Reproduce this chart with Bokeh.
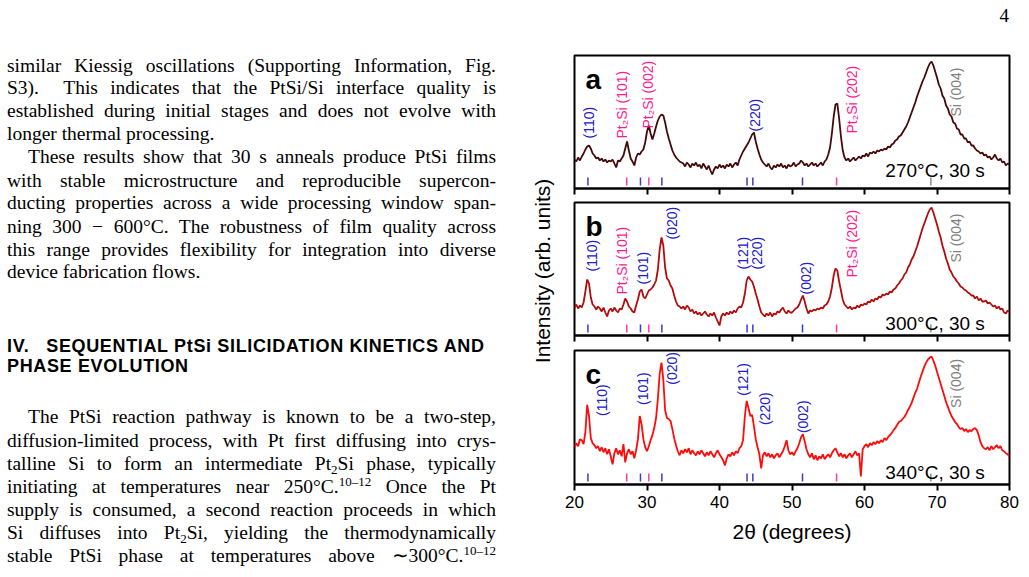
import numpy as np
from bokeh.plotting import figure
from bokeh.models import Range1d, Div, FixedTicker
from bokeh.layouts import column, row
from bokeh.embed import file_html
from bokeh.resources import INLINE
from bokeh.core.properties import value

# ---------------- data ----------------
two_theta = np.arange(241) * 0.25 + 20.0   # measurement grid, 20..80 deg, 0.25 deg step

int_270 = [
    29, 27, 31, 28, 32, 35, 39, 42, 43, 40, 35, 33, 30, 31, 28, 30, 27, 29, 26, 28,
    27, 29, 25, 21, 28, 27, 30, 33, 40, 47, 38, 30, 27, 23, 31, 35, 34, 37, 39, 46,
    57, 63, 55, 49, 55, 62, 68, 72, 74, 73, 66, 57, 50, 44, 38, 34, 31, 29, 27, 26,
    25, 22, 26, 24, 21, 25, 23, 26, 22, 24, 20, 25, 22, 19, 23, 18, 14, 19, 22, 20,
    24, 21, 23, 20, 24, 22, 25, 21, 24, 26, 23, 29, 33, 37, 40, 43, 46, 50, 54, 56,
    47, 40, 34, 29, 26, 24, 22, 25, 21, 19, 23, 21, 24, 22, 25, 21, 23, 20, 24, 22,
    23, 26, 22, 24, 25, 28, 26, 23, 25, 22, 24, 26, 23, 25, 22, 24, 26, 23, 27, 29,
    34, 41, 55, 72, 84, 85, 70, 52, 38, 31, 28, 30, 27, 29, 31, 28, 30, 32, 30, 33,
    32, 35, 32, 36, 35, 37, 35, 38, 37, 39, 38, 40, 39, 42, 41, 44, 45, 48, 49, 52,
    53, 56, 59, 62, 66, 71, 76, 81, 86, 92, 97, 102, 107, 111, 116, 121, 125, 127, 123, 117,
    111, 104, 100, 93, 90, 83, 80, 74, 72, 66, 65, 60, 59, 54, 54, 50, 50, 46, 47, 43,
    43, 40, 38, 37, 35, 36, 33, 34, 31, 32, 29, 31, 34, 30, 28, 30, 26, 27, 23, 25,
    24,
]

int_300 = [
    28, 31, 27, 30, 28, 33, 44, 56, 52, 38, 31, 29, 26, 29, 27, 24, 28, 23, 19, 25,
    27, 24, 28, 25, 23, 27, 26, 31, 37, 34, 29, 27, 24, 23, 30, 36, 44, 46, 39, 37,
    41, 45, 46, 48, 51, 55, 66, 86, 98, 90, 68, 57, 55, 50, 47, 40, 34, 30, 29, 27,
    29, 26, 30, 28, 24, 26, 22, 24, 21, 23, 20, 22, 24, 21, 19, 22, 20, 23, 18, 14,
    10, 19, 22, 20, 23, 21, 24, 22, 25, 23, 27, 29, 28, 33, 42, 55, 59, 56, 54, 49,
    42, 36, 29, 23, 21, 19, 22, 20, 23, 19, 22, 21, 24, 23, 26, 28, 24, 22, 25, 23,
    23, 25, 27, 28, 31, 36, 40, 34, 27, 22, 25, 24, 26, 25, 27, 26, 28, 27, 30, 31,
    34, 39, 48, 60, 67, 65, 54, 45, 36, 31, 29, 27, 29, 26, 28, 27, 30, 28, 31, 30,
    32, 31, 34, 33, 36, 34, 37, 36, 39, 38, 41, 40, 42, 41, 44, 43, 46, 47, 50, 52,
    55, 57, 61, 63, 68, 71, 76, 79, 84, 89, 95, 101, 107, 112, 117, 122, 126, 128, 123, 117,
    111, 104, 98, 90, 84, 77, 72, 66, 63, 59, 57, 54, 52, 49, 48, 46, 45, 43, 42, 40,
    40, 37, 39, 35, 37, 34, 34, 35, 32, 33, 31, 29, 30, 27, 29, 26, 27, 23, 22, 25,
    24,
]

int_340 = [
    37, 41, 38, 45, 44, 40, 52, 79, 68, 46, 41, 39, 36, 38, 33, 37, 32, 36, 30, 35,
    28, 20, 31, 36, 30, 34, 28, 40, 22, 31, 35, 30, 33, 26, 34, 45, 68, 60, 45, 37,
    33, 38, 44, 49, 56, 66, 85, 110, 121, 104, 74, 66, 65, 63, 55, 46, 39, 33, 29, 34,
    31, 35, 32, 36, 30, 34, 31, 29, 33, 30, 34, 31, 28, 32, 29, 33, 30, 27, 31, 34,
    30, 27, 24, 19, 26, 30, 28, 32, 29, 33, 31, 36, 38, 44, 68, 83, 76, 68, 69, 58,
    45, 37, 30, 16, 29, 32, 28, 31, 27, 30, 26, 29, 31, 27, 30, 33, 38, 44, 34, 30,
    32, 29, 33, 36, 41, 47, 50, 43, 35, 30, 27, 31, 25, 29, 24, 28, 26, 30, 25, 28,
    30, 27, 31, 34, 36, 32, 28, 31, 27, 30, 26, 29, 31, 27, 30, 33, 29, 31, 8, 35,
    38, 40, 37, 41, 39, 42, 40, 43, 41, 44, 42, 46, 44, 47, 49, 51, 54, 56, 59, 62,
    63, 65, 67, 70, 74, 77, 81, 86, 91, 95, 101, 107, 112, 117, 121, 124, 126, 127, 123, 118,
    112, 106, 100, 94, 88, 82, 77, 72, 68, 65, 62, 60, 57, 55, 56, 53, 55, 52, 54, 53,
    55, 56, 54, 49, 42, 38, 36, 35, 37, 34, 38, 35, 37, 39, 36, 38, 34, 33, 31, 30,
    28,
]

# reference (powder-file) line positions
ref_pos = [21.85, 27.2, 29.1, 30.25, 32.05, 43.8, 44.6, 51.45, 56.15, 69.15]
ref_phase = ["PtSi", "Pt2Si", "PtSi", "Pt2Si", "PtSi", "PtSi", "PtSi", "PtSi", "Pt2Si", "Si"]

# peak annotations per panel
lab_a_text = ["(110)", "Pt\u2082Si (101)", "Pt\u2082Si (002)", "(220)", "Pt\u2082Si (202)", "Si (004)"]
lab_a_x = [22.0, 26.6, 30.07, 44.9, 58.25, 72.6]
lab_a_y = [50, 50, 60, 57, 55, 72]
lab_a_phase = ["PtSi", "Pt2Si", "Pt2Si", "PtSi", "Pt2Si", "Si"]

lab_b_text = ["(110)", "Pt\u2082Si (101)", "(101)", "(020)", "(121)", "(220)", "(002)", "Pt\u2082Si (202)", "Si (004)"]
lab_b_x = [22.4, 26.6, 29.4, 33.5, 43.2, 45.2, 51.9, 58.25, 72.6]
lab_b_y = [64, 41, 51, 96, 66, 66, 41, 58, 73]
lab_b_phase = ["PtSi", "Pt2Si", "PtSi", "PtSi", "PtSi", "PtSi", "PtSi", "Pt2Si", "Si"]

lab_c_text = ["(110)", "(101)", "(020)", "(121)", "(220)", "(002)", "Si (004)"]
lab_c_x = [23.8, 29.5, 33.5, 43.2, 46.3, 51.45, 72.6]
lab_c_y = [68, 79, 99, 88, 59, 51, 76]
lab_c_phase = ["PtSi", "PtSi", "PtSi", "PtSi", "PtSi", "PtSi", "Si"]

panel_letters = ["a", "b", "c"]
conditions = ["270\u00b0C, 30 s", "300\u00b0C, 30 s", "340\u00b0C, 30 s"]
cond_y = [18, 12, 12]
x_ticks = [20, 30, 40, 50, 60, 70, 80]
y_title = "Intensity (arb. units)"
x_title = "2\u03b8 (degrees)"

curve_colors = ["#430808", "#b30a0a", "#ff0a0a"]
phase_text_color = {"PtSi": "#2020c8", "Pt2Si": "#ff1a8c", "Si": "#808080"}
phase_line_color = {"PtSi": "#3a3ad0", "Pt2Si": "#ff3c9c", "Si": "#8c8c8c"}

FONT = "Liberation Sans"


def panel(idx, y_int, lt, lx, ly, lp, height, top, bottom, last=False):
    p = figure(width=469, height=height, x_range=Range1d(20, 80), y_range=Range1d(0, 133),
               output_backend="svg", toolbar_location=None,
               min_border_left=14, min_border_right=20, min_border_top=top, min_border_bottom=bottom)
    p.grid.visible = False
    p.outline_line_color = "black"
    p.outline_line_width = 2
    p.background_fill_color = "white"
    p.border_fill_color = "white"

    # x axis
    p.xaxis.ticker = FixedTicker(ticks=x_ticks, minor_ticks=[])
    p.xaxis.axis_line_width = 2
    p.xaxis.axis_line_color = "black"
    p.xaxis.major_tick_line_width = 2
    p.xaxis.major_tick_line_color = "black"
    p.xaxis.major_tick_out = 6
    p.xaxis.major_tick_in = 0
    if last:
        p.xaxis.major_label_text_font = FONT
        p.xaxis.major_label_text_font_size = "17px"
        p.xaxis.major_label_text_color = "black"
        p.xaxis.major_label_standoff = 5
        p.xaxis.axis_label = x_title
        p.xaxis.axis_label_text_font = FONT
        p.xaxis.axis_label_text_font_size = "21px"
        p.xaxis.axis_label_text_font_style = "normal"
        p.xaxis.axis_label_text_color = "black"
        p.xaxis.axis_label_standoff = 9
    else:
        p.xaxis.major_label_text_color = None
        p.xaxis.major_label_text_font_size = "1px"
        p.xaxis.major_label_standoff = 0

    p.yaxis.visible = False

    # reference line markers
    p.segment(x0=ref_pos, y0=[3] * len(ref_pos), x1=ref_pos, y1=[11] * len(ref_pos),
              line_color=[phase_line_color[k] for k in ref_phase], line_width=1.5)

    # data curve
    p.line(two_theta, y_int, line_color=curve_colors[idx], line_width=1.8)

    # peak annotations
    p.text(x=lx, y=ly, text=lt, angle=np.pi / 2, text_align="left", text_baseline="middle",
           text_font=value(FONT), text_font_size="14px",
           text_color=[phase_text_color[k] for k in lp])

    # panel letter
    p.text(x=[21.5], y=[109], text=[panel_letters[idx]], text_font=value(FONT),
           text_font_size="28px", text_font_style="bold", text_color="black",
           text_align="left", text_baseline="alphabetic")

    # condition
    p.text(x=[76.6], y=[cond_y[idx]], text=[conditions[idx]], text_font=value(FONT),
           text_font_size="19px", text_color="black", text_align="right",
           text_baseline="alphabetic")
    return p


pa = panel(0, int_270, lab_a_text, lab_a_x, lab_a_y, lab_a_phase, 155, 15, 7)
pb = panel(1, int_300, lab_b_text, lab_b_x, lab_b_y, lab_b_phase, 147, 7, 7)
pc = panel(2, int_340, lab_c_text, lab_c_x, lab_c_y, lab_c_phase, 235, 8, 93, last=True)

# shared y-axis title (spans all three panels)
ylab_div = Div(text=(
    '<div style="position:relative;width:40px;height:537px;">'
    '<div style="position:absolute;left:-127px;top:218px;width:300px;height:26px;line-height:26px;'
    'text-align:center;transform:rotate(-90deg);font-family:\'Liberation Sans\',sans-serif;'
    f'font-size:21px;color:black;white-space:nowrap;">{y_title}</div></div>'),
    width=40, height=537, margin=0)

# ---------------- surrounding page text ----------------
serif = "font-family:'Liberation Serif',serif;font-size:19.5px;color:#000;"
def line(txt, yc, left=7, width=489, justify=True, style=serif):
    top = yc - 40 - 12
    al = "text-align:justify;text-align-last:justify;" if justify else "text-align:left;"
    return (f'<div style="position:absolute;left:{left}px;top:{top}px;width:{width}px;'
            f'line-height:22px;{al}{style}">{txt}</div>')

sup = '<span style="font-size:13px;vertical-align:7px;line-height:0">10\u201312</span>'
sub = '<span style="font-size:13px;vertical-align:-4px;line-height:0">2</span>'
lines = [
    ("similar Kiessig oscillations (Supporting Information, Fig.", 66.7, 7, 489, True),
    ("S3).&nbsp; This indicates that the PtSi/Si interface quality is", 89.3, 7, 489, True),
    ("established during initial stages and does not evolve with", 112, 7, 489, True),
    ("longer thermal processing.", 135, 7, 489, False),
    ("These results show that 30 s anneals produce PtSi films", 158.3, 28, 468, True),
    ("with stable microstructure and reproducible supercon-", 181.7, 7, 489, True),
    ("ducting properties across a wide processing window span-", 204.3, 7, 489, True),
    ("ning 300 \u2212 600\u00b0C. The robustness of film quality across", 227.7, 7, 489, True),
    ("this range provides flexibility for integration into diverse", 250.7, 7, 489, True),
    ("device fabrication flows.", 273.3, 7, 489, False),
    ("The PtSi reaction pathway is known to be a two-step,", 418.3, 28, 468, True),
    ("diffusion-limited process, with Pt first diffusing into crys-", 441.7, 7, 489, True),
    (f"talline Si to form an intermediate Pt{sub}Si phase, typically", 465, 7, 489, True),
    (f"initiating at temperatures near 250\u00b0C.{sup} Once the Pt", 488.3, 7, 489, True),
    ("supply is consumed, a second reaction proceeds in which", 511, 7, 489, True),
    (f"Si diffuses into Pt{sub}Si, yielding the thermodynamically", 534.3, 7, 489, True),
    (f"stable PtSi phase at temperatures above \u223c300\u00b0C.{sup}", 556.7, 7, 489, True),
]
head_style = ("font-family:'Liberation Sans',sans-serif;font-size:18px;font-weight:bold;"
              "letter-spacing:0.65px;color:#000;")
html = '<div style="position:relative;width:520px;height:537px;">'
for t, yc, l, w, j in lines:
    html += line(t, yc, l, w, j)
html += line("IV.&nbsp;&nbsp; SEQUENTIAL PtSi SILICIDATION KINETICS AND", 346.7, 7, 505, False, head_style)
html += line("PHASE EVOLUTION", 366.7, 7, 505, False, head_style)
html += '</div>'

left_div = Div(text=html, width=520, height=537, margin=0)
top_div = Div(text='<div style="position:relative;width:1029px;height:40px;">'
                   '<div style="position:absolute;right:20px;top:2px;font-family:\'Liberation Serif\',serif;'
                   'font-size:19px;color:#000;">4</div></div>', width=1029, height=40, margin=0)

layout = column(top_div, row(left_div, ylab_div, column(pa, pb, pc)))

open("out.html", "w").write(file_html(layout, INLINE))
